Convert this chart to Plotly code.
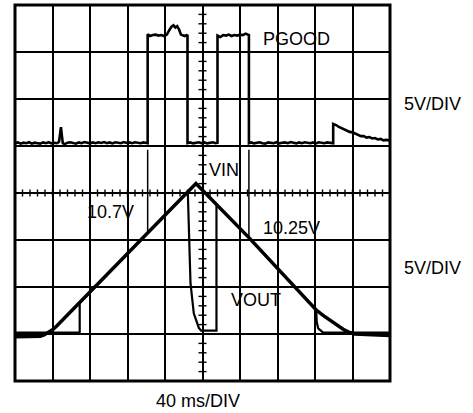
import plotly.graph_objects as go

# Scope settings
MS_PER_DIV = 40
VOLTS_PER_DIV = 5
N_XDIV = 10
N_YDIV = 8
PGOOD_GND_DIV = 5   # PGOOD channel ground marker (divisions from bottom)
VIN_GND_DIV = 1     # VIN / VOUT channel ground marker

# PGOOD trace (time in ms, volts)
pgood_t = [
    0, 3, 6, 9, 12, 15, 18, 21, 24, 27, 30, 33, 36, 39, 42, 45, 47, 48, 49, 50,
    51, 53, 56, 59, 62, 65, 68, 71, 74, 77, 80, 83, 86, 89, 92, 95, 98, 101, 104, 107,
    110, 113, 116, 119, 122, 125, 128, 131, 134, 137, 140, 141.5,
    141.5, 144, 147, 150, 153, 156, 159, 162, 165, 167, 169, 171, 173, 175, 177, 179, 181, 183, 184,
    184, 187, 190, 193, 196, 199, 202, 205, 208, 211, 214, 216,
    216, 219, 222, 225, 228, 231, 234, 237, 240, 243, 246, 249.5,
    249.5, 252, 255, 258, 261, 264, 267, 270, 273, 276, 279, 282, 285, 288, 291, 294, 297, 300,
    303, 306, 309, 312, 315, 318, 321, 324, 327, 330, 333, 336, 339.4,
    339.4, 341, 343, 345, 348, 351, 354, 357, 360, 363, 366, 369, 372, 375, 378, 381, 384, 387,
    390, 393, 396, 400,
]
pgood_v = [
    0.3, 0.38, 0.25, 0.35, 0.3, 0.4, 0.25, 0.35, 0.3, 0.25, 0.38, 0.3, 0.4, 0.28, 0.35, 0.3, 0.45, 1.3, 2.0, 1.1,
    0.3, 0.2, 0.35, 0.4, 0.3, 0.25, 0.38, 0.3, 0.42, 0.33, 0.28, 0.38, 0.3, 0.4, 0.33, 0.42, 0.3, 0.38, 0.28, 0.4,
    0.33, 0.3, 0.42, 0.33, 0.38, 0.3, 0.4, 0.33, 0.3, 0.38, 0.33, 0.3,
    11.9, 11.7, 11.8, 11.85, 11.75, 11.8, 11.7, 11.85, 12.4, 12.7, 12.85, 12.6, 12.75, 12.4, 11.85, 11.8, 11.7, 11.8, 11.75,
    0.3, 0.38, 0.28, 0.35, 0.4, 0.3, 0.38, 0.28, 0.35, 0.4, 0.3, 0.35,
    11.75, 11.6, 11.8, 11.75, 11.85, 11.7, 11.8, 11.75, 11.85, 11.8, 11.95, 11.8,
    0.3, 0.38, 0.28, 0.35, 0.4, 0.3, 0.25, 0.38, 0.35, 0.3, 0.4, 0.28, 0.35, 0.38, 0.3, 0.42, 0.35, 0.28,
    0.38, 0.3, 0.4, 0.35, 0.3, 0.38, 0.28, 0.4, 0.35, 0.3, 0.38, 0.35, 0.3,
    2.35, 2.3, 2.2, 2.05, 1.9, 1.75, 1.65, 1.5, 1.45, 1.3, 1.2, 1.05, 1.05, 0.9, 0.95, 0.8, 0.85, 0.7,
    0.75, 0.6, 0.65, 0.6,
]

# VIN ramp (time in ms, volts)
vin_t = [0, 20, 27, 31, 35, 40, 44.5, 141.5, 193, 249.5, 321.3, 329, 336.2, 343, 350, 356, 362, 400]
vin_v = [-0.3, -0.3, -0.25, -0.1, 0.1, 0.45, 0.85, 10.7, 16.0, 10.25, 2.55, 1.95, 1.45, 0.95, 0.5, 0.2, 0.0, -0.15]

# VOUT (time in ms, volts)
vout_t = [0, 69, 69, 141.5, 184.4, 184.6, 185.4, 187.2, 190.7, 196.1, 198.6, 214.9, 214.9,
          249.5, 321.3, 321.8, 323.4, 328.7, 400]
vout_v = [0.15, 0.15, 3.3, 10.7, 15.15, 14.2, 10.7, 5.4, 2.2, 0.65, 0.35, 0.35, 13.8,
          10.25, 2.55, 1.3, 0.6, 0.15, 0.15]

# PGOOD transition cursors and the VIN level at each
cursor_t = [141.5, 249.5]
cursor_v = [10.7, 10.25]
cursor_labels = ["10.7V", "10.25V"]


def to_div(volts, gnd):
    return [gnd + v / VOLTS_PER_DIV for v in volts]


fig = go.Figure()

# Minor tick marks on the centre graticule axes
x_center = N_XDIV * MS_PER_DIV / 2
y_center = N_YDIV / 2
tx, ty = [], []
for k in range(1, N_XDIV * 5):
    x = k * MS_PER_DIV / 5
    tx += [x, x, None]
    ty += [y_center - 0.075, y_center + 0.075, None]
for k in range(1, N_YDIV * 5):
    y = k / 5
    tx += [x_center - 4.3, x_center + 4.3, None]
    ty += [y, y, None]
fig.add_trace(go.Scatter(x=tx, y=ty, mode="lines", line=dict(color="black", width=1.4),
                         hoverinfo="skip", showlegend=False))

# Cursor lines from PGOOD edges down to VIN
for t, v in zip(cursor_t, cursor_v):
    fig.add_trace(go.Scatter(x=[t, t], y=[PGOOD_GND_DIV - 0.08, to_div([v], VIN_GND_DIV)[0]],
                             mode="lines", line=dict(color="black", width=1.5),
                             hoverinfo="skip", showlegend=False))

fig.add_trace(go.Scatter(x=vout_t, y=to_div(vout_v, VIN_GND_DIV), mode="lines",
                         line=dict(color="black", width=2.2), showlegend=False))
fig.add_trace(go.Scatter(x=vin_t, y=to_div(vin_v, VIN_GND_DIV), mode="lines",
                         line=dict(color="black", width=3.5), showlegend=False))
fig.add_trace(go.Scatter(x=pgood_t, y=to_div(pgood_v, PGOOD_GND_DIV), mode="lines",
                         line=dict(color="black", width=2.6), showlegend=False))

font = dict(family="Liberation Sans, Arial, sans-serif", size=18, color="black")
ann = [
    dict(x=263.5, y=7.28, text="PGOOD", xref="x", yref="y"),
    dict(x=205.9, y=4.49, text="VIN", xref="x", yref="y"),
    dict(x=75.7, y=3.6, text=cursor_labels[0], xref="x", yref="y"),
    dict(x=263.5, y=3.26, text=cursor_labels[1], xref="x", yref="y"),
    dict(x=229.3, y=1.72, text="VOUT", xref="x", yref="y"),
    dict(x=1.0347, y=0.7367, text="5V/DIV", xref="paper", yref="paper"),
    dict(x=1.0347, y=0.3005, text="5V/DIV", xref="paper", yref="paper"),
]
annotations = [dict(a, showarrow=False, xanchor="left", yanchor="middle", font=font, borderpad=0)
               for a in ann]
annotations.append(dict(x=0.4893, y=-0.0532, xref="paper", yref="paper", text="40 ms/DIV",
                        showarrow=False, xanchor="center", yanchor="middle", font=font, borderpad=0))

axis_common = dict(showgrid=True, gridcolor="black", gridwidth=1.5, zeroline=False,
                   showticklabels=False, ticks="", showline=False, fixedrange=True)

fig.update_layout(
    width=473, height=413, autosize=False,
    margin=dict(l=15, r=83, t=5, b=32, pad=0),
    paper_bgcolor="white", plot_bgcolor="white",
    xaxis=dict(axis_common, range=[0, N_XDIV * MS_PER_DIV], dtick=MS_PER_DIV, tick0=0),
    yaxis=dict(axis_common, range=[0, N_YDIV], dtick=1, tick0=0),
    annotations=annotations,
    shapes=[dict(type="rect", xref="paper", yref="paper", x0=0, x1=1, y0=0, y1=1,
                 line=dict(color="black", width=3))],
)

fig.write_html("out.html", config={"displayModeBar": False})
